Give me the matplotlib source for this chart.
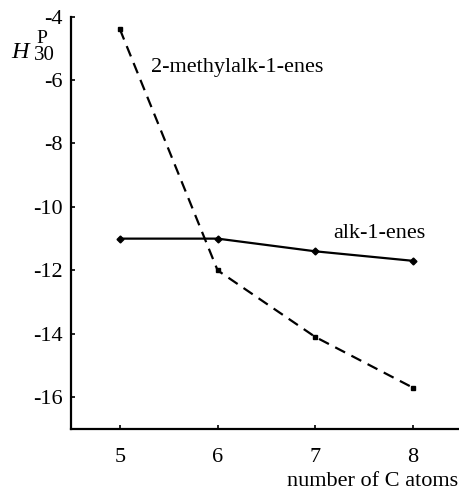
import matplotlib
matplotlib.use("Agg")
import matplotlib.pyplot as plt

# ----------------------------- data -----------------------------------------
n_carbon = [5, 6, 7, 8]
alk_1_enes = [-11.0, -11.0, -11.4, -11.7]
methylalk_1_enes = [-4.4, -12.0, -14.1, -15.7]
y_ticks = [-4, -6, -8, -10, -12, -14, -16]

# ----------------------------- plotting -------------------------------------
plt.rcParams.update({"font.family": "Liberation Serif", "font.size": 16})

W, H = 459, 493
fig = plt.figure(figsize=(W / 100, H / 100), dpi=100)
ax = fig.add_axes([0.1547, 0.1298, 0.8453, 0.8367])

ax.plot(n_carbon, alk_1_enes, "-", color="black", lw=1.6,
        marker="D", ms=3.5)
ax.plot(n_carbon, methylalk_1_enes, "--", color="black", lw=1.6,
        marker="s", ms=3.2, dashes=(5, 3.2))

ax.set_xlim(4.5, 8.47)
ax.set_ylim(-17, -4)
ax.set_xticks(n_carbon)
ax.set_yticks(y_ticks)
ax.set_yticklabels([str(v) for v in y_ticks])

for s in ("top", "right"):
    ax.spines[s].set_visible(False)
for s in ("left", "bottom"):
    ax.spines[s].set_linewidth(1.6)
ax.tick_params(direction="in", length=3, width=1.2, pad=6)
ax.tick_params(axis="x", pad=14)

ax.text(5.32, -5.6, "2-methylalk-1-enes", ha="left", va="center")
ax.text(7.18, -10.85, "alk-1-enes", ha="left", va="center")

# y label: italic H with sub/superscript placed by hand, as in the source
fig.text(11 / W, 1 - 58 / H, "H", fontsize=17.5, style="italic",
         ha="left", va="baseline")
fig.text(36 / W, 1 - 43 / H, "P", fontsize=14, ha="left", va="baseline")
fig.text(34 / W, 1 - 60 / H, "30", fontsize=15, ha="left", va="baseline")

fig.text(0.998, 0.004, "number of C atoms", ha="right", va="bottom")

fig.savefig("out.png", dpi=100)
